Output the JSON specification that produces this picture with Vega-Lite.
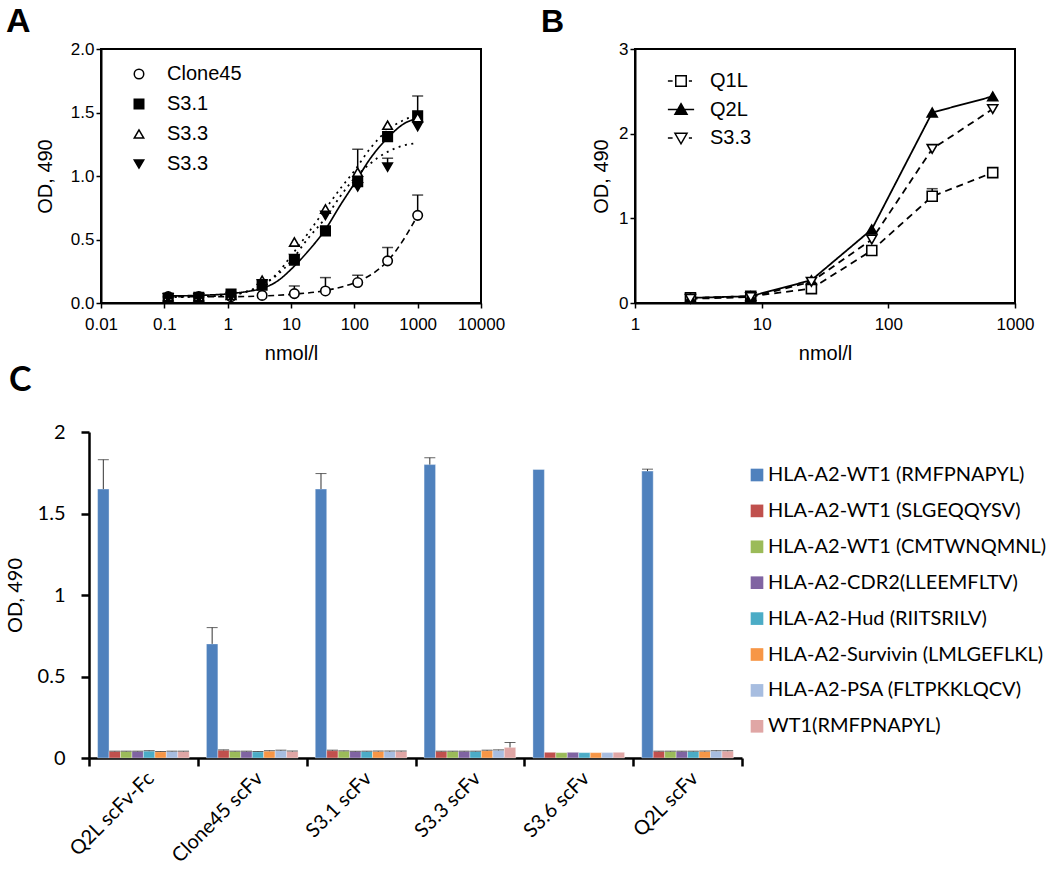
{
  "$schema": "https://vega.github.io/schema/vega-lite/v6.json",
  "padding": {"left": 5, "top": 4, "right": 5, "bottom": 5},
  "background": "white",
  "config": {
    "font": "Liberation Sans",
    "axis": {"grid": false, "domainColor": "black", "tickColor": "black", "labelColor": "black", "titleColor": "black", "titleFontWeight": "normal"},
    "legend": {"labelColor": "black"}
  },
  "columns": 1,
  "align": "none",
  "spacing": 0,
  "resolve": {
    "scale": {"shape": "independent", "fill": "independent", "color": "independent", "strokeDash": "independent", "strokeWidth": "independent", "x": "independent", "y": "independent"},
    "legend": {"shape": "independent", "fill": "independent", "color": "independent"}
  },
  "datasets": {
    "aPts": [
      {"series": "Clone45", "x": 0.115, "y": 0.05, "hi": null},
      {"series": "Clone45", "x": 0.35, "y": 0.05, "hi": null},
      {"series": "Clone45", "x": 1.13, "y": 0.05, "hi": null},
      {"series": "Clone45", "x": 3.5, "y": 0.06, "hi": null},
      {"series": "Clone45", "x": 11.3, "y": 0.074, "hi": 0.134},
      {"series": "Clone45", "x": 35, "y": 0.095, "hi": 0.2},
      {"series": "Clone45", "x": 113, "y": 0.161, "hi": 0.219},
      {"series": "Clone45", "x": 335, "y": 0.332, "hi": 0.437},
      {"series": "Clone45", "x": 1000, "y": 0.69, "hi": 0.85},
      {"series": "S3.1", "x": 0.115, "y": 0.04, "hi": null},
      {"series": "S3.1", "x": 0.35, "y": 0.045, "hi": null},
      {"series": "S3.1", "x": 1.13, "y": 0.07, "hi": null},
      {"series": "S3.1", "x": 3.5, "y": 0.14, "hi": null},
      {"series": "S3.1", "x": 11.3, "y": 0.337, "hi": null},
      {"series": "S3.1", "x": 35, "y": 0.568, "hi": null},
      {"series": "S3.1", "x": 113, "y": 0.955, "hi": null},
      {"series": "S3.1", "x": 335, "y": 1.31, "hi": null},
      {"series": "S3.1", "x": 1000, "y": 1.474, "hi": 1.63},
      {"series": "S3.3a", "x": 0.115, "y": 0.05, "hi": null},
      {"series": "S3.3a", "x": 0.35, "y": 0.05, "hi": null},
      {"series": "S3.3a", "x": 1.13, "y": 0.06, "hi": null},
      {"series": "S3.3a", "x": 3.5, "y": 0.18, "hi": null},
      {"series": "S3.3a", "x": 11.3, "y": 0.48, "hi": null},
      {"series": "S3.3a", "x": 35, "y": 0.74, "hi": null},
      {"series": "S3.3a", "x": 113, "y": 1.03, "hi": 1.21},
      {"series": "S3.3a", "x": 335, "y": 1.4, "hi": null},
      {"series": "S3.3a", "x": 1000, "y": 1.46, "hi": null},
      {"series": "S3.3b", "x": 0.115, "y": 0.04, "hi": null},
      {"series": "S3.3b", "x": 0.35, "y": 0.04, "hi": null},
      {"series": "S3.3b", "x": 1.13, "y": 0.05, "hi": null},
      {"series": "S3.3b", "x": 3.5, "y": 0.15, "hi": null},
      {"series": "S3.3b", "x": 11.3, "y": 0.35, "hi": null},
      {"series": "S3.3b", "x": 35, "y": 0.69, "hi": null},
      {"series": "S3.3b", "x": 113, "y": 0.915, "hi": null},
      {"series": "S3.3b", "x": 335, "y": 1.07, "hi": 1.14},
      {"series": "S3.3b", "x": 1000, "y": 1.39, "hi": null}
    ],
    "aFit": [
      {"curve": "Clone45", "x": 0.115, "y": 0.05},
      {"curve": "Clone45", "x": 0.35, "y": 0.05},
      {"curve": "Clone45", "x": 1, "y": 0.05},
      {"curve": "Clone45", "x": 3.5, "y": 0.055},
      {"curve": "Clone45", "x": 11.3, "y": 0.07},
      {"curve": "Clone45", "x": 35, "y": 0.098},
      {"curve": "Clone45", "x": 113, "y": 0.17},
      {"curve": "Clone45", "x": 200, "y": 0.235},
      {"curve": "Clone45", "x": 335, "y": 0.33},
      {"curve": "Clone45", "x": 600, "y": 0.5},
      {"curve": "Clone45", "x": 1000, "y": 0.69},
      {"curve": "S3.1", "x": 0.115, "y": 0.055},
      {"curve": "S3.1", "x": 0.35, "y": 0.06},
      {"curve": "S3.1", "x": 1, "y": 0.072},
      {"curve": "S3.1", "x": 2, "y": 0.09},
      {"curve": "S3.1", "x": 3.5, "y": 0.115},
      {"curve": "S3.1", "x": 6, "y": 0.17},
      {"curve": "S3.1", "x": 10, "y": 0.265},
      {"curve": "S3.1", "x": 18, "y": 0.4},
      {"curve": "S3.1", "x": 35, "y": 0.58},
      {"curve": "S3.1", "x": 60, "y": 0.77},
      {"curve": "S3.1", "x": 100, "y": 0.94},
      {"curve": "S3.1", "x": 180, "y": 1.14},
      {"curve": "S3.1", "x": 335, "y": 1.3},
      {"curve": "S3.1", "x": 600, "y": 1.41},
      {"curve": "S3.1", "x": 1000, "y": 1.455},
      {"curve": "S3.3a", "x": 0.115, "y": 0.05},
      {"curve": "S3.3a", "x": 0.35, "y": 0.052},
      {"curve": "S3.3a", "x": 1, "y": 0.06},
      {"curve": "S3.3a", "x": 2, "y": 0.09},
      {"curve": "S3.3a", "x": 3.5, "y": 0.14},
      {"curve": "S3.3a", "x": 6, "y": 0.23},
      {"curve": "S3.3a", "x": 10, "y": 0.37},
      {"curve": "S3.3a", "x": 18, "y": 0.54},
      {"curve": "S3.3a", "x": 35, "y": 0.74},
      {"curve": "S3.3a", "x": 60, "y": 0.9},
      {"curve": "S3.3a", "x": 100, "y": 1.04},
      {"curve": "S3.3a", "x": 180, "y": 1.22},
      {"curve": "S3.3a", "x": 335, "y": 1.36},
      {"curve": "S3.3a", "x": 600, "y": 1.44},
      {"curve": "S3.3a", "x": 1000, "y": 1.48},
      {"curve": "S3.3b", "x": 0.115, "y": 0.045},
      {"curve": "S3.3b", "x": 0.35, "y": 0.05},
      {"curve": "S3.3b", "x": 1, "y": 0.06},
      {"curve": "S3.3b", "x": 2, "y": 0.09},
      {"curve": "S3.3b", "x": 3.5, "y": 0.14},
      {"curve": "S3.3b", "x": 6, "y": 0.22},
      {"curve": "S3.3b", "x": 10, "y": 0.33},
      {"curve": "S3.3b", "x": 18, "y": 0.5},
      {"curve": "S3.3b", "x": 35, "y": 0.67},
      {"curve": "S3.3b", "x": 60, "y": 0.84},
      {"curve": "S3.3b", "x": 100, "y": 0.98},
      {"curve": "S3.3b", "x": 180, "y": 1.1},
      {"curve": "S3.3b", "x": 335, "y": 1.19},
      {"curve": "S3.3b", "x": 600, "y": 1.24},
      {"curve": "S3.3b", "x": 1000, "y": 1.26}
    ],
    "bPts": [
      {"series": "Q1L", "x": 2.74, "y": 0.06, "hi": null},
      {"series": "Q1L", "x": 8.2, "y": 0.08, "hi": null},
      {"series": "Q1L", "x": 24.7, "y": 0.17, "hi": null},
      {"series": "Q1L", "x": 74, "y": 0.62, "hi": null},
      {"series": "Q1L", "x": 222, "y": 1.26, "hi": 1.35},
      {"series": "Q1L", "x": 667, "y": 1.54, "hi": null},
      {"series": "Q2L", "x": 2.74, "y": 0.06, "hi": null},
      {"series": "Q2L", "x": 8.2, "y": 0.08, "hi": null},
      {"series": "Q2L", "x": 24.7, "y": 0.27, "hi": null},
      {"series": "Q2L", "x": 74, "y": 0.87, "hi": null},
      {"series": "Q2L", "x": 222, "y": 2.25, "hi": null},
      {"series": "Q2L", "x": 667, "y": 2.44, "hi": null},
      {"series": "S3.3", "x": 2.74, "y": 0.05, "hi": null},
      {"series": "S3.3", "x": 8.2, "y": 0.07, "hi": null},
      {"series": "S3.3", "x": 24.7, "y": 0.25, "hi": null},
      {"series": "S3.3", "x": 74, "y": 0.75, "hi": null},
      {"series": "S3.3", "x": 222, "y": 1.82, "hi": null},
      {"series": "S3.3", "x": 667, "y": 2.29, "hi": null}
    ],
    "cBars": [
      {"group": "Q2L scFv-Fc", "peptide": "HLA-A2-WT1 (RMFPNAPYL)", "od": 1.65, "hi": 1.83},
      {"group": "Q2L scFv-Fc", "peptide": "HLA-A2-WT1 (SLGEQQYSV)", "od": 0.04, "hi": 0.042},
      {"group": "Q2L scFv-Fc", "peptide": "HLA-A2-WT1 (CMTWNQMNL)", "od": 0.04, "hi": 0.042},
      {"group": "Q2L scFv-Fc", "peptide": "HLA-A2-CDR2(LLEEMFLTV)", "od": 0.04, "hi": 0.042},
      {"group": "Q2L scFv-Fc", "peptide": "HLA-A2-Hud (RIITSRILV)", "od": 0.042, "hi": 0.045},
      {"group": "Q2L scFv-Fc", "peptide": "HLA-A2-Survivin (LMLGEFLKL)", "od": 0.038, "hi": 0.04},
      {"group": "Q2L scFv-Fc", "peptide": "HLA-A2-PSA (FLTPKKLQCV)", "od": 0.04, "hi": 0.042},
      {"group": "Q2L scFv-Fc", "peptide": "WT1(RMFPNAPYL)", "od": 0.04, "hi": 0.042},
      {"group": "Clone45 scFv", "peptide": "HLA-A2-WT1 (RMFPNAPYL)", "od": 0.7, "hi": 0.8},
      {"group": "Clone45 scFv", "peptide": "HLA-A2-WT1 (SLGEQQYSV)", "od": 0.047, "hi": 0.05},
      {"group": "Clone45 scFv", "peptide": "HLA-A2-WT1 (CMTWNQMNL)", "od": 0.04, "hi": 0.042},
      {"group": "Clone45 scFv", "peptide": "HLA-A2-CDR2(LLEEMFLTV)", "od": 0.04, "hi": 0.042},
      {"group": "Clone45 scFv", "peptide": "HLA-A2-Hud (RIITSRILV)", "od": 0.038, "hi": 0.04},
      {"group": "Clone45 scFv", "peptide": "HLA-A2-Survivin (LMLGEFLKL)", "od": 0.042, "hi": 0.045},
      {"group": "Clone45 scFv", "peptide": "HLA-A2-PSA (FLTPKKLQCV)", "od": 0.045, "hi": 0.048},
      {"group": "Clone45 scFv", "peptide": "WT1(RMFPNAPYL)", "od": 0.04, "hi": 0.043},
      {"group": "S3.1 scFv", "peptide": "HLA-A2-WT1 (RMFPNAPYL)", "od": 1.65, "hi": 1.745},
      {"group": "S3.1 scFv", "peptide": "HLA-A2-WT1 (SLGEQQYSV)", "od": 0.045, "hi": 0.048},
      {"group": "S3.1 scFv", "peptide": "HLA-A2-WT1 (CMTWNQMNL)", "od": 0.042, "hi": 0.044},
      {"group": "S3.1 scFv", "peptide": "HLA-A2-CDR2(LLEEMFLTV)", "od": 0.04, "hi": 0.042},
      {"group": "S3.1 scFv", "peptide": "HLA-A2-Hud (RIITSRILV)", "od": 0.04, "hi": 0.042},
      {"group": "S3.1 scFv", "peptide": "HLA-A2-Survivin (LMLGEFLKL)", "od": 0.04, "hi": 0.043},
      {"group": "S3.1 scFv", "peptide": "HLA-A2-PSA (FLTPKKLQCV)", "od": 0.04, "hi": 0.043},
      {"group": "S3.1 scFv", "peptide": "WT1(RMFPNAPYL)", "od": 0.04, "hi": 0.043},
      {"group": "S3.3 scFv", "peptide": "HLA-A2-WT1 (RMFPNAPYL)", "od": 1.8, "hi": 1.842},
      {"group": "S3.3 scFv", "peptide": "HLA-A2-WT1 (SLGEQQYSV)", "od": 0.04, "hi": 0.042},
      {"group": "S3.3 scFv", "peptide": "HLA-A2-WT1 (CMTWNQMNL)", "od": 0.04, "hi": 0.042},
      {"group": "S3.3 scFv", "peptide": "HLA-A2-CDR2(LLEEMFLTV)", "od": 0.04, "hi": 0.042},
      {"group": "S3.3 scFv", "peptide": "HLA-A2-Hud (RIITSRILV)", "od": 0.04, "hi": 0.042},
      {"group": "S3.3 scFv", "peptide": "HLA-A2-Survivin (LMLGEFLKL)", "od": 0.045, "hi": 0.048},
      {"group": "S3.3 scFv", "peptide": "HLA-A2-PSA (FLTPKKLQCV)", "od": 0.047, "hi": 0.05},
      {"group": "S3.3 scFv", "peptide": "WT1(RMFPNAPYL)", "od": 0.065, "hi": 0.095},
      {"group": "S3.6 scFv", "peptide": "HLA-A2-WT1 (RMFPNAPYL)", "od": 1.77, "hi": null},
      {"group": "S3.6 scFv", "peptide": "HLA-A2-WT1 (SLGEQQYSV)", "od": 0.035, "hi": null},
      {"group": "S3.6 scFv", "peptide": "HLA-A2-WT1 (CMTWNQMNL)", "od": 0.033, "hi": null},
      {"group": "S3.6 scFv", "peptide": "HLA-A2-CDR2(LLEEMFLTV)", "od": 0.035, "hi": null},
      {"group": "S3.6 scFv", "peptide": "HLA-A2-Hud (RIITSRILV)", "od": 0.033, "hi": null},
      {"group": "S3.6 scFv", "peptide": "HLA-A2-Survivin (LMLGEFLKL)", "od": 0.033, "hi": null},
      {"group": "S3.6 scFv", "peptide": "HLA-A2-PSA (FLTPKKLQCV)", "od": 0.033, "hi": null},
      {"group": "S3.6 scFv", "peptide": "WT1(RMFPNAPYL)", "od": 0.035, "hi": null},
      {"group": "Q2L scFv", "peptide": "HLA-A2-WT1 (RMFPNAPYL)", "od": 1.76, "hi": 1.772},
      {"group": "Q2L scFv", "peptide": "HLA-A2-WT1 (SLGEQQYSV)", "od": 0.04, "hi": 0.042},
      {"group": "Q2L scFv", "peptide": "HLA-A2-WT1 (CMTWNQMNL)", "od": 0.04, "hi": 0.042},
      {"group": "Q2L scFv", "peptide": "HLA-A2-CDR2(LLEEMFLTV)", "od": 0.04, "hi": 0.042},
      {"group": "Q2L scFv", "peptide": "HLA-A2-Hud (RIITSRILV)", "od": 0.04, "hi": 0.042},
      {"group": "Q2L scFv", "peptide": "HLA-A2-Survivin (LMLGEFLKL)", "od": 0.04, "hi": 0.043},
      {"group": "Q2L scFv", "peptide": "HLA-A2-PSA (FLTPKKLQCV)", "od": 0.042, "hi": 0.045},
      {"group": "Q2L scFv", "peptide": "WT1(RMFPNAPYL)", "od": 0.042, "hi": 0.045}
    ]
  },
  "concat": [
    {
      "spacing": 34,
      "resolve": {
        "scale": {"shape": "independent", "fill": "independent", "strokeDash": "independent", "strokeWidth": "independent", "x": "independent", "y": "independent"},
        "legend": {"shape": "independent", "fill": "independent"}
      },
      "hconcat": [
        {
          "width": 380,
          "height": 254,
          "view": {"stroke": "black", "strokeWidth": 2},
          "title": {"text": "A", "anchor": "start", "frame": "group", "font": "Liberation Sans", "fontSize": 34, "fontWeight": "bold", "color": "black", "dx": -95, "offset": 1},
          "resolve": {"scale": {"strokeDash": "independent", "strokeWidth": "independent"}},
          "layer": [
            {
              "data": {"name": "aFit"},
              "mark": {"type": "line", "interpolate": "monotone", "color": "black"},
              "encoding": {
                "x": {"field": "x", "type": "quantitative", "scale": {"type": "log", "domain": [0.01, 10000], "nice": false}},
                "y": {"field": "y", "type": "quantitative"},
                "detail": {"field": "curve"},
                "strokeDash": {"field": "curve", "type": "nominal", "legend": null, "scale": {"domain": ["Clone45", "S3.1", "S3.3a", "S3.3b"], "range": [[6, 4], [1, 0], [2, 4.5], [2, 4.5]]}},
                "strokeWidth": {"field": "curve", "type": "nominal", "legend": null, "scale": {"domain": ["Clone45", "S3.1", "S3.3a", "S3.3b"], "range": [1.6, 1.8, 2.6, 2.6]}}
              }
            },
            {
              "data": {"name": "aPts"},
              "transform": [{"filter": "datum.hi != null"}],
              "mark": {"type": "rule", "color": "black", "strokeWidth": 1.5},
              "encoding": {
                "x": {"field": "x", "type": "quantitative"},
                "y": {"field": "y", "type": "quantitative"},
                "y2": {"field": "hi"}
              }
            },
            {
              "data": {"name": "aPts"},
              "transform": [{"filter": "datum.hi != null"}],
              "mark": {"type": "tick", "orient": "horizontal", "color": "black", "size": 11, "thickness": 1.5},
              "encoding": {
                "x": {"field": "x", "type": "quantitative"},
                "y": {"field": "hi", "type": "quantitative"}
              }
            },
            {
              "data": {"name": "aPts"},
              "mark": {"type": "point", "stroke": "black", "strokeWidth": 1.6, "opacity": 1, "filled": false, "size": 90},
              "encoding": {
                "x": {"field": "x", "type": "quantitative", "axis": {"values": [0.01, 0.1, 1, 10, 100, 1000, 10000], "format": "~g", "title": "nmol/l", "labelFontSize": 17, "titleFontSize": 20, "tickSize": 5, "tickWidth": 1.5, "domainWidth": 2, "labelPadding": 8, "titlePadding": 11, "labelFlush": false}},
                "y": {"field": "y", "type": "quantitative", "scale": {"domain": [0, 2], "nice": false}, "axis": {"values": [0, 0.5, 1, 1.5, 2], "format": ".1f", "title": "OD, 490", "labelFontSize": 17, "titleFontSize": 20, "tickSize": 5, "tickWidth": 1.5, "domainWidth": 2, "labelPadding": 2, "titlePadding": 15, "labelFlush": false}},
                "shape": {"field": "series", "type": "nominal", "scale": {"domain": ["Clone45", "S3.1", "S3.3a", "S3.3b"], "range": ["circle", "square", "triangle-up", "triangle-down"]},
                  "legend": {"title": null, "orient": "none", "legendX": 28, "legendY": 15, "labelFontSize": 20, "labelFont": "Liberation Sans", "symbolSize": 90, "rowPadding": 10, "labelOffset": 18, "padding": 0, "labelExpr": "datum.label == 'S3.3a' || datum.label == 'S3.3b' ? 'S3.3' : datum.label",
                    "encode": {"symbols": {"update": {"stroke": {"value": "black"}, "strokeWidth": {"value": 1.6}, "opacity": {"value": 1}}}}}},
                "fill": {"field": "series", "type": "nominal", "scale": {"domain": ["Clone45", "S3.1", "S3.3a", "S3.3b"], "range": ["white", "black", "white", "black"]},
                  "legend": {"title": null, "orient": "none", "legendX": 28, "legendY": 15, "labelFontSize": 20, "labelFont": "Liberation Sans", "symbolSize": 90, "rowPadding": 10, "labelOffset": 18, "padding": 0, "labelExpr": "datum.label == 'S3.3a' || datum.label == 'S3.3b' ? 'S3.3' : datum.label",
                    "encode": {"symbols": {"update": {"stroke": {"value": "black"}, "strokeWidth": {"value": 1.6}, "opacity": {"value": 1}}}}}}
              }
            }
          ]
        },
        {
          "width": 380,
          "height": 254,
          "view": {"stroke": "black", "strokeWidth": 2},
          "title": {"text": "B", "anchor": "start", "frame": "group", "font": "Liberation Sans", "fontSize": 32, "fontWeight": "bold", "color": "black", "dx": -94, "offset": 1},
          "data": {"name": "bPts"},
          "resolve": {"scale": {"shape": "independent", "fill": "independent"}, "legend": {"shape": "independent", "fill": "independent"}},
          "layer": [
            {
              "mark": {"type": "line", "color": "black", "strokeWidth": 1.8},
              "encoding": {
                "x": {"field": "x", "type": "quantitative", "scale": {"type": "log", "domain": [1, 1000], "nice": false}},
                "y": {"field": "y", "type": "quantitative"},
                "detail": {"field": "series"},
                "strokeDash": {"field": "series", "type": "nominal", "legend": null, "scale": {"domain": ["Q1L", "Q2L", "S3.3"], "range": [[7, 5], [1, 0], [7, 5]]}}
              }
            },
            {
              "transform": [{"filter": "datum.hi != null"}],
              "mark": {"type": "rule", "color": "black", "strokeWidth": 1.5},
              "encoding": {
                "x": {"field": "x", "type": "quantitative"},
                "y": {"field": "y", "type": "quantitative"},
                "y2": {"field": "hi"}
              }
            },
            {
              "transform": [{"filter": "datum.hi != null"}],
              "mark": {"type": "tick", "orient": "horizontal", "color": "black", "size": 11, "thickness": 1.5},
              "encoding": {
                "x": {"field": "x", "type": "quantitative"},
                "y": {"field": "hi", "type": "quantitative"}
              }
            },
            {
              "mark": {"type": "point", "stroke": "black", "strokeWidth": 1.6, "opacity": 1, "filled": false, "size": 100},
              "encoding": {
                "x": {"field": "x", "type": "quantitative", "axis": {"values": [1, 10, 100, 1000], "format": "~g", "title": "nmol/l", "labelFontSize": 17, "titleFontSize": 20, "tickSize": 5, "tickWidth": 1.5, "domainWidth": 2, "labelPadding": 8, "titlePadding": 11, "labelFlush": false}},
                "y": {"field": "y", "type": "quantitative", "scale": {"domain": [0, 3], "nice": false}, "axis": {"values": [0, 1, 2, 3], "format": "d", "title": "OD, 490", "labelFontSize": 17, "titleFontSize": 20, "tickSize": 5, "tickWidth": 1.5, "domainWidth": 2, "labelPadding": 2, "titlePadding": 7, "labelFlush": false}},
                "shape": {"field": "series", "type": "nominal", "scale": {"domain": ["Q1L", "Q2L", "S3.3"], "range": ["square", "triangle-up", "triangle-down"]}, "legend": null},
                "fill": {"field": "series", "type": "nominal", "scale": {"domain": ["Q1L", "Q2L", "S3.3"], "range": ["white", "black", "white"]}, "legend": null}
              }
            },
            {
              "transform": [{"filter": "false"}],
              "mark": {"type": "point", "stroke": "black", "strokeWidth": 1.6, "filled": false, "opacity": 1},
              "encoding": {
                "x": {"field": "x", "type": "quantitative"},
                "y": {"field": "y", "type": "quantitative"},
                "shape": {"field": "series", "type": "nominal", "scale": {"domain": ["Q1L", "Q2L", "S3.3"], "range": ["M-2.5,0H-1.6M-1,-1H1V1H-1ZM1.5,0H2.1", "M-2.5,0H2.5M0,-1.1L1.15,0.9H-1.15Z", "M-2.5,0H-1.6M-1.15,-0.9H1.15L0,1.1ZM1.5,0H2.1"]},
                  "legend": {"title": null, "orient": "none", "legendX": 36, "legendY": 22, "labelFontSize": 20, "labelFont": "Liberation Sans", "symbolSize": 110, "rowPadding": 8.5, "labelOffset": 19, "padding": 0,
                    "encode": {"symbols": {"update": {"stroke": {"value": "black"}, "strokeWidth": {"value": 1.6}, "opacity": {"value": 1}}}}}},
                "fill": {"field": "series", "type": "nominal", "scale": {"domain": ["Q1L", "Q2L", "S3.3"], "range": ["white", "black", "white"]},
                  "legend": {"title": null, "orient": "none", "legendX": 36, "legendY": 22, "labelFontSize": 20, "labelFont": "Liberation Sans", "symbolSize": 110, "rowPadding": 8.5, "labelOffset": 19, "padding": 0,
                    "encode": {"symbols": {"update": {"stroke": {"value": "black"}, "strokeWidth": {"value": 1.6}, "opacity": {"value": 1}}}}}}
              }
            }
          ]
        }
      ]
    },
    {
      "width": 641,
      "height": 326,
      "view": {"stroke": null},
      "title": {"text": "C", "anchor": "start", "frame": "group", "font": "Lato", "fontSize": 34, "fontWeight": "bold", "color": "black", "dx": -92, "offset": 24},
      "data": {"name": "cBars"},
      "encoding": {
        "x": {"field": "group", "type": "nominal", "sort": null, "scale": {"paddingInner": 0, "paddingOuter": 0, "range": [-12, 641]},
          "axis": {"title": null, "labelAngle": -45, "labelFont": "Lato", "labelFontSize": 20, "labelPadding": 2, "tickSize": 8, "tickWidth": 2.5, "domainWidth": 2.5, "tickBand": "extent", "labelColor": "black"}},
        "xOffset": {"field": "peptide", "type": "nominal", "sort": null, "scale": {"paddingInner": 0, "paddingOuter": 0.75}}
      },
      "layer": [
        {
          "mark": {"type": "bar", "stroke": "white", "strokeWidth": 0.6, "strokeOpacity": 0.6},
          "encoding": {
            "y": {"field": "od", "type": "quantitative", "scale": {"domain": [0, 2], "nice": false},
              "axis": {"values": [0, 0.5, 1, 1.5, 2], "format": "~g", "title": "OD, 490", "labelFont": "Lato", "titleFont": "Lato", "labelFontSize": 20, "titleFontSize": 20, "tickSize": 8, "tickWidth": 2.5, "domainWidth": 2.5, "labelPadding": 16, "titlePadding": 12, "labelFlush": false, "offset": 12}},
            "color": {"field": "peptide", "type": "nominal", "sort": null,
              "scale": {"domain": ["HLA-A2-WT1 (RMFPNAPYL)", "HLA-A2-WT1 (SLGEQQYSV)", "HLA-A2-WT1 (CMTWNQMNL)", "HLA-A2-CDR2(LLEEMFLTV)", "HLA-A2-Hud (RIITSRILV)", "HLA-A2-Survivin (LMLGEFLKL)", "HLA-A2-PSA (FLTPKKLQCV)", "WT1(RMFPNAPYL)"],
                "range": ["#4F81BD", "#C0504D", "#9BBB59", "#8064A2", "#4BACC6", "#F79646", "#A7BDE0", "#E0A6A5"]},
              "legend": {"title": null, "orient": "none", "legendX": 646, "legendY": 33, "symbolType": "square", "symbolSize": 160, "symbolStrokeWidth": 0, "labelFont": "Lato", "labelFontSize": 20, "labelLimit": 400, "rowPadding": 15.9, "labelOffset": 1, "padding": 0}}
          }
        },
        {
          "transform": [{"filter": "datum.hi != null"}],
          "mark": {"type": "rule", "color": "#333333", "strokeWidth": 1},
          "encoding": {
            "y": {"field": "od", "type": "quantitative"},
            "y2": {"field": "hi"}
          }
        },
        {
          "transform": [{"filter": "datum.hi != null"}],
          "mark": {"type": "tick", "orient": "horizontal", "color": "#222222", "size": 11, "thickness": 1},
          "encoding": {
            "y": {"field": "hi", "type": "quantitative"}
          }
        }
      ]
    }
  ]
}
